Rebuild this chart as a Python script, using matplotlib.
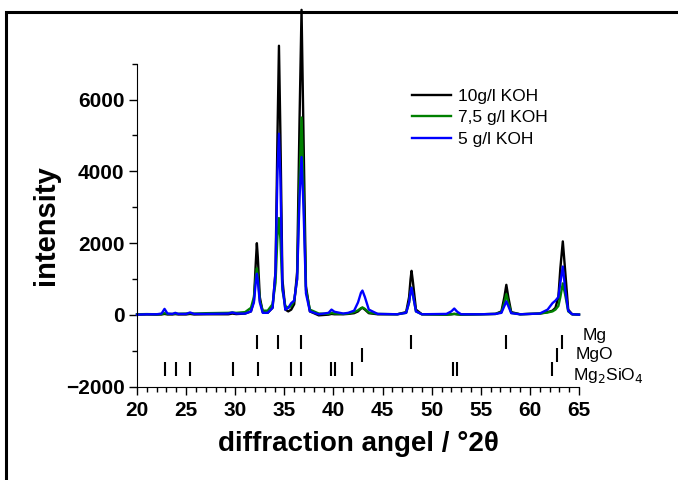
import matplotlib
matplotlib.use('Agg')
import matplotlib.pyplot as plt
from matplotlib.lines import Line2D
from matplotlib.ticker import MultipleLocator

plt.rcParams['font.family'] = ['Liberation Sans', 'DejaVu Sans']

# diffraction angle (deg 2theta), shared by all three patterns
angle = [20.0, 21.0, 22.0, 22.5, 22.8, 23.1, 23.6, 23.9, 24.2, 25.0, 25.4, 25.8,
         27.0, 29.3, 29.7, 30.1, 31.0, 31.6, 31.9, 32.1, 32.2, 32.3, 32.5, 32.8,
         33.3, 33.8, 34.1, 34.3, 34.45, 34.6, 34.8, 35.1, 35.4, 35.7, 36.0, 36.3,
         36.55, 36.75, 36.95, 37.2, 37.6, 38.5, 39.5, 39.8, 40.1, 41.0, 41.5, 41.8,
         42.1, 42.5, 42.8, 42.95, 43.2, 43.6, 44.5, 46.5, 47.4, 47.7, 47.85, 47.95,
         48.1, 48.4, 49.0, 51.5, 52.0, 52.3, 52.6, 53.0, 55.0, 56.5, 57.1, 57.4,
         57.6, 57.8, 58.1, 59.0, 61.0, 61.8, 62.3, 62.6, 62.9, 63.1, 63.35, 63.6,
         63.9, 64.3, 65.0]

koh_10 = [10, 15, 10, 15, 30, 15, 15, 25, 15, 15, 30, 15,
          20, 20, 40, 25, 40, 100, 400, 1500, 2000, 1600, 500, 80,
          60, 200, 1200, 5000, 7500, 5000, 1000, 150, 100, 150, 300, 1200,
          5500, 8500, 5000, 800, 100, -10, 10, 30, 20, 20, 30, 40,
          50, 100, 180, 200, 150, 50, 20, 20, 80, 500, 1000, 1230,
          900, 150, 20, 10, 20, 30, 20, 10, 20, 30, 100, 500,
          840, 500, 80, 20, 40, 80, 120, 200, 500, 1300, 2050, 1200,
          150, 20, 10]

koh_75 = [20, 25, 20, 25, 50, 30, 30, 35, 35, 40, 50, 40,
          50, 60, 70, 60, 80, 200, 500, 1100, 1300, 1100, 400, 120,
          120, 300, 900, 2200, 2700, 2100, 700, 250, 200, 250, 400, 1000,
          3800, 5500, 3500, 700, 150, 40, 30, 60, 40, 30, 40, 60,
          80, 130, 190, 210, 170, 70, 30, 20, 60, 350, 650, 760,
          550, 100, 20, 10, 20, 30, 20, 10, 20, 30, 80, 350,
          580, 350, 60, 20, 40, 70, 100, 150, 250, 500, 880, 550,
          100, 20, 10]

koh_5 = [10, 20, 20, 40, 170, 40, 30, 60, 30, 30, 70, 30,
         30, 40, 70, 40, 40, 100, 350, 950, 1150, 950, 350, 60,
         60, 200, 1200, 4000, 5050, 3800, 800, 150, 200, 330, 400, 1000,
         3300, 4400, 3000, 600, 100, 20, 60, 150, 90, 40, 60, 90,
         120, 350, 620, 680, 500, 150, 30, 20, 60, 350, 650, 760,
         550, 100, 20, 30, 100, 180, 90, 20, 20, 30, 60, 250,
         380, 250, 50, 20, 40, 150, 330, 400, 500, 900, 1350, 700,
         120, 20, 10]

# reference reflection positions
mg_pos = [32.2, 34.4, 36.7, 47.85, 57.55, 63.3]
mgo_pos = [42.95, 62.75]
mg2sio4_pos = [22.85, 23.95, 25.35, 29.8, 32.3, 35.7, 36.7, 39.7, 40.2,
               41.85, 52.2, 52.6, 62.3]

fig = plt.figure(figsize=(6.78, 4.8), dpi=100)
ax = fig.add_axes([0.2021, 0.1942, 0.6519, 0.6731])

ax.plot(angle, koh_10, color='black', lw=1.7, label='10g/l KOH', clip_on=False)
ax.plot(angle, koh_75, color='green', lw=1.7, label='7,5 g/l KOH', clip_on=False)
ax.plot(angle, koh_5, color='blue', lw=1.7, label='5 g/l KOH', clip_on=False)

ax.vlines(mg_pos, -950, -550, color='black', lw=1.5)
ax.vlines(mgo_pos, -1320, -930, color='black', lw=1.5)
ax.vlines(mg2sio4_pos, -1710, -1310, color='black', lw=1.5)

ax.text(66.6, -560, 'Mg', ha='center', va='center', fontsize=12.5)
ax.text(66.6, -1110, 'MgO', ha='center', va='center', fontsize=12.5)
ax.text(64.4, -1680, r'Mg$_2$SiO$_4$', ha='left', va='center', fontsize=12.5)

ax.set_xlim(20, 65)
ax.set_ylim(-2000, 7000)
ax.xaxis.set_major_locator(MultipleLocator(5))
ax.xaxis.set_minor_locator(MultipleLocator(1))
ax.yaxis.set_major_locator(MultipleLocator(2000))
ax.yaxis.set_minor_locator(MultipleLocator(1000))
ax.tick_params(which='major', length=6, width=1, labelsize=15, pad=3)
ax.tick_params(axis='x', which='major', pad=4)
ax.tick_params(which='minor', length=3.5, width=1)
for lab in ax.get_xticklabels() + ax.get_yticklabels():
    lab.set_fontweight('bold')

ax.spines['top'].set_visible(False)
ax.spines['right'].set_visible(False)

ax.set_xlabel('diffraction angel / °2θ', fontsize=20, fontweight='bold', labelpad=8)
ax.set_ylabel('intensity', fontsize=21, fontweight='bold', labelpad=4)

ax.legend(loc='upper left', bbox_to_anchor=(0.607, 0.815), bbox_transform=fig.transFigure,
          frameon=False, fontsize=12.5, handlelength=2.3, handletextpad=0.35,
          labelspacing=0.36, borderpad=0, borderaxespad=0)

# outer frame (left and top edges only show in the picture)
x0 = 6 / 678
y0 = 1 - 12 / 480
fig.add_artist(Line2D([x0, x0, 1.0], [0.0, y0, y0], transform=fig.transFigure,
                      color='black', lw=2.2, solid_joinstyle='miter', zorder=10))

fig.savefig('out.png', dpi=100)
